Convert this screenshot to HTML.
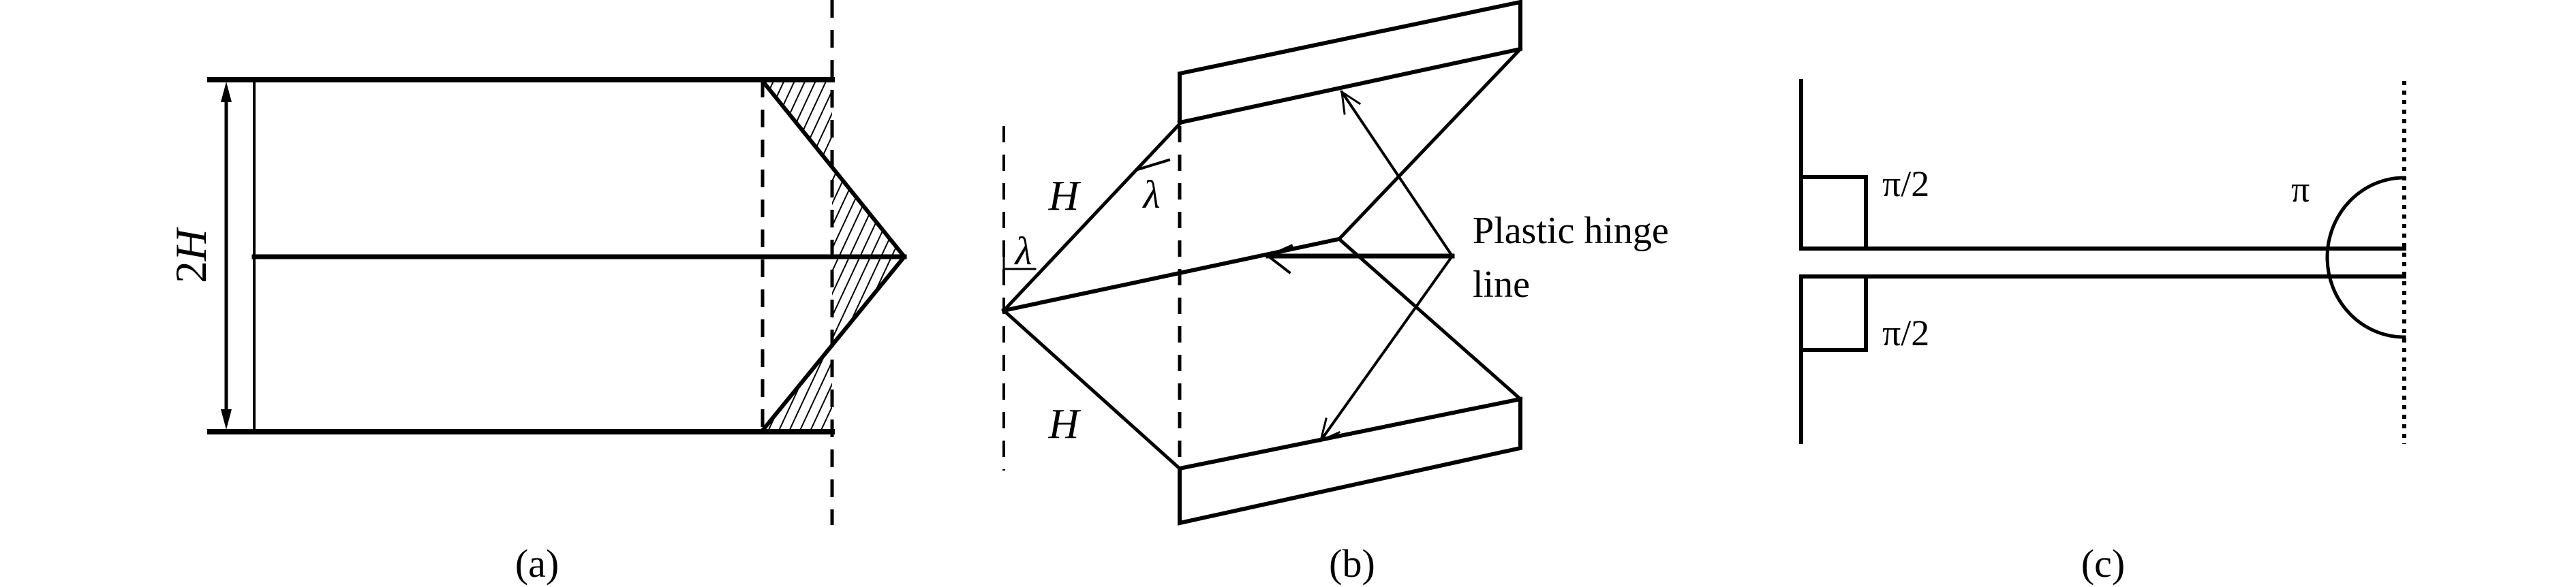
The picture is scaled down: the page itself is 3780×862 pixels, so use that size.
<!DOCTYPE html>
<html><head><meta charset="utf-8"><style>
html,body{margin:0;padding:0;background:#fff;}
svg{display:block;}
text{font-family:"Liberation Serif",serif;fill:#000;}
</style></head><body>
<svg width="3780" height="862" viewBox="0 0 3780 862" xmlns="http://www.w3.org/2000/svg">
<defs>
<pattern id="h" width="14" height="14" patternUnits="userSpaceOnUse" patternTransform="rotate(25)">
<line x1="0" y1="0" x2="0" y2="14" stroke="#000" stroke-width="4"/>
</pattern>
</defs>
<g stroke="#000" fill="none" stroke-linecap="square">
<!-- Panel a -->
<path d="M1119,117 L1221,117 L1221,634 L1119,634 L1327,377 Z" fill="url(#h)" fill-rule="evenodd" stroke="none"/>
<line x1="308" y1="117" x2="1221" y2="117" stroke-width="8"/>
<line x1="308" y1="634" x2="1221" y2="634" stroke-width="8"/>
<line x1="373" y1="377" x2="1327" y2="377" stroke-width="7"/>
<line x1="373" y1="117" x2="373" y2="634" stroke-width="4"/>
<line x1="332" y1="135" x2="332" y2="617" stroke-width="5"/>
<path d="M332,120 L324,150 L340,150 Z M332,631 L324,601 L340,601 Z" fill="#000" stroke="none"/>
<line x1="1119" y1="117" x2="1119" y2="634" stroke-width="5" stroke-dasharray="26,18" stroke-linecap="butt"/>
<line x1="1221" y1="0" x2="1221" y2="771" stroke-width="5" stroke-dasharray="26,18" stroke-linecap="butt"/>
<polyline points="1119,119 1327,377 1119,632" stroke-width="6"/>

<!-- Panel b -->
<polyline points="1731,180 1731,108 2231,3 2231,72 1731,180" stroke-width="6"/>
<polyline points="1731,688 1731,768 2231,658 2231,586 1731,688" stroke-width="6"/>
<line x1="1473" y1="185" x2="1473" y2="691" stroke-width="4" stroke-dasharray="24,18" stroke-linecap="butt"/>
<line x1="1731" y1="185" x2="1731" y2="691" stroke-width="5" stroke-dasharray="24,18" stroke-linecap="butt"/>
<line x1="1473" y1="456" x2="1731" y2="182" stroke-width="5"/>
<line x1="1473" y1="456" x2="1731" y2="688" stroke-width="5"/>
<line x1="1473" y1="456" x2="1965" y2="351" stroke-width="6"/>
<polyline points="2231,72 1965,351 2231,586" stroke-width="5"/>
<line x1="2131" y1="376" x2="1861" y2="376" stroke-width="7"/>
<polyline points="1895,361 1861,376 1892,400" stroke-width="4"/>
<line x1="2131" y1="376" x2="1969" y2="135" stroke-width="4"/>
<polyline points="1973,167 1969,135 1995,152" stroke-width="3"/>
<line x1="2131" y1="376" x2="1938" y2="647" stroke-width="4"/>
<polyline points="1946,615 1938,647 1965,635" stroke-width="3"/>
<polyline points="1473,365 1473,395 1519,395" stroke-width="3"/>
<line x1="1669" y1="249" x2="1715" y2="235" stroke-width="4"/>

<!-- Panel c -->
<line x1="2643" y1="119" x2="2643" y2="365" stroke-width="6"/>
<line x1="2643" y1="406" x2="2643" y2="649" stroke-width="6"/>
<line x1="2643" y1="365" x2="3528" y2="365" stroke-width="6"/>
<line x1="2643" y1="406" x2="3528" y2="406" stroke-width="6"/>
<polyline points="2643,260 2738,260 2738,365" stroke-width="6"/>
<polyline points="2738,406 2738,514 2643,514" stroke-width="6"/>
<line x1="3528" y1="119" x2="3528" y2="652" stroke-width="6" stroke-dasharray="6,8" stroke-linecap="butt"/>
<path d="M3528,261 A113,117 0 0 0 3528,495" stroke-width="5"/>
</g>

<text x="0" y="0" font-size="65" text-anchor="middle" transform="translate(302,376) rotate(-90)">2<tspan font-style="italic">H</tspan></text>
<text x="788" y="847" font-size="58" text-anchor="middle">(a)</text>

<text x="1561" y="308" font-size="62" font-style="italic" text-anchor="middle">H</text>
<text x="1561" y="643" font-size="62" font-style="italic" text-anchor="middle">H</text>
<text x="1690" y="305" font-size="58" font-style="italic" text-anchor="middle">λ</text>
<text x="1502" y="388" font-size="58" font-style="italic" text-anchor="middle">λ</text>
<text x="2161" y="357" font-size="56">Plastic hinge</text>
<text x="2161" y="436" font-size="56">line</text>
<text x="1984" y="847" font-size="58" text-anchor="middle">(b)</text>

<text x="2762" y="288" font-size="54">π/2</text>
<text x="2762" y="507" font-size="54">π/2</text>
<text x="3362" y="296" font-size="54">π</text>
<text x="3086" y="847" font-size="58" text-anchor="middle">(c)</text>
</svg>
</body></html>
